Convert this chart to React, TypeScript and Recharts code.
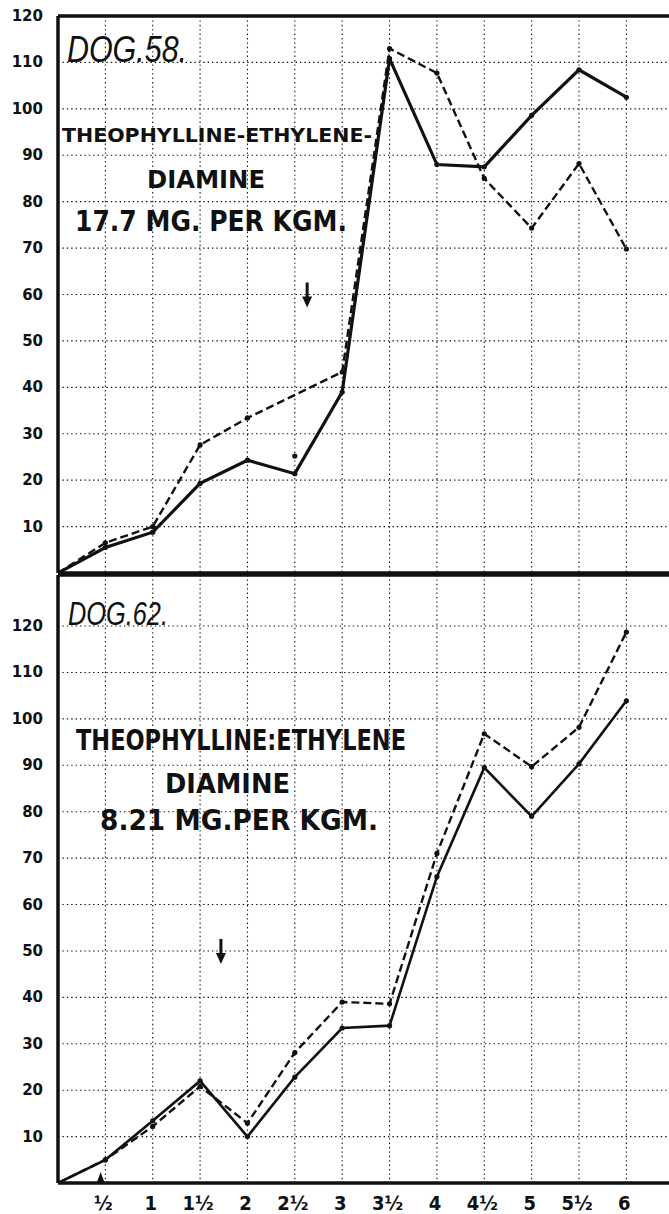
import React from "react";
import {
  LineChart,
  Line,
  XAxis,
  YAxis,
  CartesianGrid,
  ReferenceLine,
  ReferenceDot,
} from "recharts";

// hours after start (x)
const hours = [0, 0.5, 1, 1.5, 2, 2.5, 3, 3.5, 4, 4.5, 5, 5.5, 6];
const dog58Solid = [0, 5.5, 8.8, 19.3, 24.3, 21.4, 39, 110.8, 88, 87.5, 98.6, 108.4, 102.5];
const dog58Dashed = [0, 6.5, 10, 27.6, 33.4, null, 43.3, 113, 107.7, 85, 74.3, 88.2, 69.8];
const dog62Solid = [0, 5, 13.4, 22, 10, 22.8, 33.4, 33.9, 66, 89.5, 79, 90.3, 103.9];
const dog62Dashed = [0, 5, 12.2, 20.8, 12.9, 28.1, 39, 38.6, 71, 96.8, 89.7, 98.2, 118.7];
const strayPoint58 = { t: 2.5, v: 25.2 };

const xTicks = [0.5, 1, 1.5, 2, 2.5, 3, 3.5, 4, 4.5, 5, 5.5, 6];
const xLabels = ["½", "1", "1½", "2", "2½", "3", "3½", "4", "4½", "5", "5½", "6"];
const yTicks = [10, 20, 30, 40, 50, 60, 70, 80, 90, 100, 110, 120];

const X_MAX = 6.45;
const W = 669;
const INK = "#111";

const rows58 = hours.map((t, i) => ({ t, solid: dog58Solid[i], dashed: dog58Dashed[i] }));
const rows62 = hours.map((t, i) => ({ t, solid: dog62Solid[i], dashed: dog62Dashed[i] }));

const YTick = (props: any) => {
  const { y, payload } = props;
  return (
    <text
      x={43}
      y={y + 5}
      textAnchor="end"
      fontFamily="DejaVu Sans"
      fontWeight="bold"
      fontSize={15}
      fill={INK}
    >
      {payload.value}
    </text>
  );
};

const XTick = (props: any) => {
  const { x, y, payload } = props;
  const idx = xTicks.indexOf(payload.value);
  return (
    <text
      x={x - 2}
      y={y + 19}
      textAnchor="middle"
      fontFamily="DejaVu Sans Condensed"
      fontWeight="bold"
      fontSize={20}
      fill={INK}
    >
      {xLabels[idx]}
    </text>
  );
};

const DownArrow = (props: any) => {
  const { cx, cy } = props;
  return (
    <g>
      <line x1={cx} y1={cy - 12} x2={cx} y2={cy + 6} stroke={INK} strokeWidth={3} />
      <path d={`M${cx - 5},${cy + 2} L${cx + 5},${cy + 2} L${cx},${cy + 13} Z`} fill={INK} />
    </g>
  );
};

const UpTriangle = (props: any) => {
  const { cx, cy } = props;
  return <path d={`M${cx - 4},${cy} L${cx + 4},${cy} L${cx},${cy - 11} Z`} fill={INK} />;
};

const dotStyle = { r: 2.6, fill: INK, stroke: INK, strokeWidth: 0 };

function Panel({
  rows,
  height,
  top,
  yMax,
  grid,
  showX,
  solidWidth,
  children,
}: {
  rows: any[];
  height: number;
  top: number;
  yMax: number;
  grid: number[];
  showX: boolean;
  solidWidth: number;
  children?: React.ReactNode;
}) {
  return (
    <div style={{ position: "absolute", left: 0, top }}>
      <LineChart
        width={W}
        height={height}
        data={rows}
        margin={{ top: 15, right: 0, left: 0, bottom: showX ? 0 : 4 }}
      >
        <CartesianGrid
          stroke={INK}
          strokeWidth={1.1}
          strokeDasharray="1.4 3"
          horizontalValues={grid}
          verticalValues={xTicks}
        />
        <XAxis
          type="number"
          dataKey="t"
          domain={[0, X_MAX]}
          ticks={xTicks}
          allowDataOverflow
          hide={!showX}
          height={31}
          axisLine={false}
          tickLine={false}
          tick={<XTick />}
          interval={0}
        />
        <YAxis
          type="number"
          domain={[0, yMax]}
          ticks={yTicks}
          allowDataOverflow
          width={58}
          axisLine={{ stroke: INK, strokeWidth: 3.5 }}
          tickLine={false}
          tick={<YTick />}
          interval={0}
        />
        <ReferenceLine y={0} stroke={INK} strokeWidth={3.5} />
        <ReferenceLine y={yMax} stroke={INK} strokeWidth={3.5} />
        <Line
          type="linear"
          dataKey="dashed"
          stroke={INK}
          strokeWidth={2.4}
          strokeDasharray="8 4"
          dot={dotStyle}
          connectNulls
          isAnimationActive={false}
        />
        <Line
          type="linear"
          dataKey="solid"
          stroke={INK}
          strokeWidth={solidWidth}
          dot={dotStyle}
          isAnimationActive={false}
        />
        {children}
      </LineChart>
    </div>
  );
}

export default function App() {
  const hand = "Liberation Sans";
  const letter = "DejaVu Sans";
  return (
    <div
      style={{
        position: "absolute",
        left: 0,
        top: 0,
        width: W,
        height: 1214,
        background: "#fff",
        overflow: "hidden",
      }}
    >
      <Panel
        rows={rows58}
        height={576}
        top={1}
        yMax={120}
        grid={[10, 20, 30, 40, 50, 60, 70, 80, 90, 100, 110]}
        showX={false}
        solidWidth={3.2}
      >
        <ReferenceDot x={strayPoint58.t} y={strayPoint58.v} r={2.6} fill={INK} stroke="none" />
        <ReferenceDot x={2.63} y={60} r={0} shape={<DownArrow />} />
      </Panel>
      <Panel
        rows={rows62}
        height={654}
        top={560}
        yMax={131}
        grid={[10, 20, 30, 40, 50, 60, 70, 80, 90, 100, 110, 120]}
        showX
        solidWidth={2.6}
      >
        <ReferenceDot x={1.72} y={50} r={0} shape={<DownArrow />} />
        <ReferenceDot x={0.45} y={0} r={0} shape={<UpTriangle />} />
      </Panel>

      <svg
        width={W}
        height={1214}
        style={{ position: "absolute", left: 0, top: 0, pointerEvents: "none" }}
      >
        <g fill={INK}>
          <text x={67} y={62} fontFamily={hand} fontStyle="italic" fontSize={37} textLength={120} lengthAdjust="spacingAndGlyphs">
            DOG.58.
          </text>
          <text x={62} y={142} fontFamily={letter} fontWeight="bold" fontSize={20} textLength={310} lengthAdjust="spacingAndGlyphs">
            THEOPHYLLINE-ETHYLENE-
          </text>
          <text x={147} y={188} fontFamily={letter} fontWeight="bold" fontSize={25} textLength={118} lengthAdjust="spacingAndGlyphs">
            DIAMINE
          </text>
          <text x={75} y={231} fontFamily={letter} fontWeight="bold" fontSize={29} textLength={272} lengthAdjust="spacingAndGlyphs">
            17.7 MG. PER KGM.
          </text>

          <text x={68} y={625} fontFamily={hand} fontStyle="italic" fontSize={33} textLength={100} lengthAdjust="spacingAndGlyphs">
            DOG.62.
          </text>
          <text x={76} y={750} fontFamily={letter} fontWeight="bold" fontSize={29} textLength={330} lengthAdjust="spacingAndGlyphs">
            THEOPHYLLINE:ETHYLENE
          </text>
          <text x={165} y={793} fontFamily={letter} fontWeight="bold" fontSize={27} textLength={125} lengthAdjust="spacingAndGlyphs">
            DIAMINE
          </text>
          <text x={100} y={830} fontFamily={letter} fontWeight="bold" fontSize={29} textLength={278} lengthAdjust="spacingAndGlyphs">
            8.21 MG.PER KGM.
          </text>
        </g>
      </svg>
    </div>
  );
}
